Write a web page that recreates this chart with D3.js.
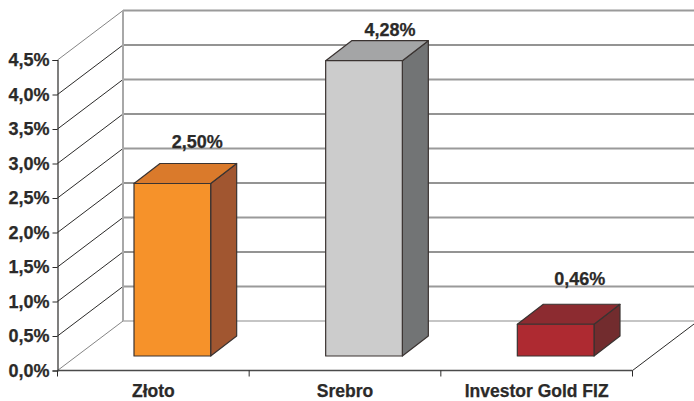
<!DOCTYPE html>
<html>
<head>
<meta charset="utf-8">
<script src="https://cdn.jsdelivr.net/npm/d3@7"></script>
<style>
  html, body { margin: 0; padding: 0; background: #fff; }
  svg { display: block; }
  text { font-family: "Liberation Sans", Arial, sans-serif; font-weight: bold; fill: #2b2a29; stroke: #2b2a29; stroke-width: 0.25px; }
</style>
</head>
<body>
<div id="chart"></div>
<script>
// Data
var categories = ["Złoto", "Srebro", "Investor Gold FIZ"];
var values = [2.50, 4.28, 0.46];
var valueLabels = ["2,50%", "4,28%", "0,46%"];
var yTicks = [0, 0.5, 1, 1.5, 2, 2.5, 3, 3.5, 4, 4.5];
var barFront = ["#f6922a", "#cccccc", "#ae2a31"];
var barTop = ["#da7a2b", "#a4a5a6", "#8c2b30"];
var barSide = ["#a15630", "#727475", "#722c2e"];

// Set up chart
var svgWidth = 694;
var svgHeight = 401;

var x0 = 57.5, x1 = 632.5;
var y0 = 370.5, yTop = 60;

// 3d offsets: wall is pushed back by depth, bars stand part way in
var depthX = 65.5, depthY = 49.5;
var barOffX = 19, barOffY = 14.5;
var barDepthX = 26, barDepthY = 20;

// gap from bar front top to label baseline, the source placed them by hand
var labelGap = [36, 25, 39];
var labelShift = [25, 26, 24];

var svg = d3.select("#chart")
  .append("svg")
  .attr("width", svgWidth)
  .attr("height", svgHeight);

var xScale = d3.scaleBand()
  .domain(categories)
  .range([x0, x1])
  .paddingInner(0.6)
  .paddingOuter(0.3);

var yScale = d3.scaleLinear()
  .domain([0, 4.5])
  .range([y0, yTop]);

// Back wall gridlines, they alternate in the source
function gridColor(d, i) {
  if (i == 0) return "#8c8c8c";
  return i % 2 == 1 ? "#9a9a9a" : "#2b2a29";
}
function gridWidth(d, i) {
  if (i == 0) return 1.2;
  return i % 2 == 1 ? 2 : 1.2;
}

svg.selectAll(".grid")
  .data(yTicks)
  .enter()
  .append("line")
  .attr("class", "grid")
  .attr("x1", x0 + depthX)
  .attr("x2", svgWidth + 5)
  .attr("y1", d => yScale(d) - depthY)
  .attr("y2", d => yScale(d) - depthY)
  .attr("stroke", gridColor)
  .attr("stroke-width", gridWidth);

// Left wall diagonals
svg.selectAll(".diag")
  .data(yTicks)
  .enter()
  .append("line")
  .attr("class", "diag")
  .attr("x1", x0)
  .attr("x2", x0 + depthX)
  .attr("y1", d => yScale(d))
  .attr("y2", d => yScale(d) - depthY)
  .attr("stroke", (d, i) => (i == 0 || i == yTicks.length - 1) ? "#858585" : "#2b2a29")
  .attr("stroke-width", 1);

// Back wall left edge
svg.append("line")
  .attr("x1", x0 + depthX)
  .attr("x2", x0 + depthX)
  .attr("y1", yScale(0) - depthY)
  .attr("y2", yScale(4.5) - depthY)
  .attr("stroke", "#a8a8a8")
  .attr("stroke-width", 2);

// Floor right edge
svg.append("line")
  .attr("x1", x1)
  .attr("x2", x1 + depthX)
  .attr("y1", y0)
  .attr("y2", y0 - depthY)
  .attr("stroke", "#2b2a29")
  .attr("stroke-width", 1);

// Bars: side, top, front
var bars = svg.selectAll(".bar")
  .data(categories)
  .enter()
  .append("g")
  .attr("class", "bar")
  .attr("stroke", "#3a3331")
  .attr("stroke-width", 1.2)
  .attr("stroke-linejoin", "round");

function left(i) { return xScale(categories[i]) + barOffX; }
function right(i) { return left(i) + xScale.bandwidth(); }
function top_(i) { return yScale(values[i]) - barOffY; }
function bottom(i) { return yScale(0) - barOffY; }

bars.append("path")
  .attr("fill", (d, i) => barSide[i])
  .attr("d", (d, i) => d3.line()([
    [right(i), top_(i)],
    [right(i) + barDepthX, top_(i) - barDepthY],
    [right(i) + barDepthX, bottom(i) - barDepthY],
    [right(i), bottom(i)]
  ]) + "Z");

bars.append("path")
  .attr("fill", (d, i) => barTop[i])
  .attr("d", (d, i) => d3.line()([
    [left(i), top_(i)],
    [left(i) + barDepthX, top_(i) - barDepthY],
    [right(i) + barDepthX, top_(i) - barDepthY],
    [right(i), top_(i)]
  ]) + "Z");

bars.append("rect")
  .attr("fill", (d, i) => barFront[i])
  .attr("x", (d, i) => left(i))
  .attr("y", (d, i) => top_(i))
  .attr("width", xScale.bandwidth())
  .attr("height", (d, i) => bottom(i) - top_(i));

// Value labels over the bars
svg.selectAll(".valueLabel")
  .data(valueLabels)
  .enter()
  .append("text")
  .attr("class", "valueLabel")
  .attr("x", (d, i) => left(i) + xScale.bandwidth() / 2 + labelShift[i])
  .attr("y", (d, i) => top_(i) - labelGap[i])
  .attr("text-anchor", "middle")
  .style("font-size", "18px")
  .text(d => d);

// Axes
var leftAxis = d3.axisLeft(yScale)
  .tickValues(yTicks)
  .tickSize(5)
  .tickPadding(3)
  .tickFormat(d => d3.format(".1f")(d).replace(".", ",") + "%");

var yAxisG = svg.append("g")
  .attr("transform", `translate(${x0}, 0)`)
  .call(leftAxis);
yAxisG.select(".domain").attr("stroke", "#2b2a29").attr("stroke-width", 1.2);
yAxisG.selectAll(".tick line").attr("stroke", "#2b2a29");
yAxisG.selectAll("text")
  .attr("fill", "#2b2a29")
  .style("font-size", "18px")
  .style("font-family", '"Liberation Sans", Arial, sans-serif');

var bottomAxis = d3.axisBottom(xScale).tickSize(0).tickPadding(14);

var xAxisG = svg.append("g")
  .attr("transform", `translate(0, ${y0})`)
  .call(bottomAxis);
xAxisG.select(".domain").remove();
xAxisG.selectAll("text")
  .attr("fill", "#2b2a29")
  .style("font-size", "17.5px")
  .style("font-family", '"Liberation Sans", Arial, sans-serif');

// Baseline and category separator ticks
var step = xScale.step();
xAxisG.append("line")
  .attr("x1", x0).attr("x2", x1)
  .attr("stroke", "#4a4a4a").attr("stroke-width", 1.6);
xAxisG.selectAll(".sep")
  .data(d3.range(categories.length + 1))
  .enter()
  .append("line")
  .attr("class", "sep")
  .attr("x1", d => x0 + d * step)
  .attr("x2", d => x0 + d * step)
  .attr("y1", 0)
  .attr("y2", 6)
  .attr("stroke", "#2b2a29");
</script>
</body>
</html>
